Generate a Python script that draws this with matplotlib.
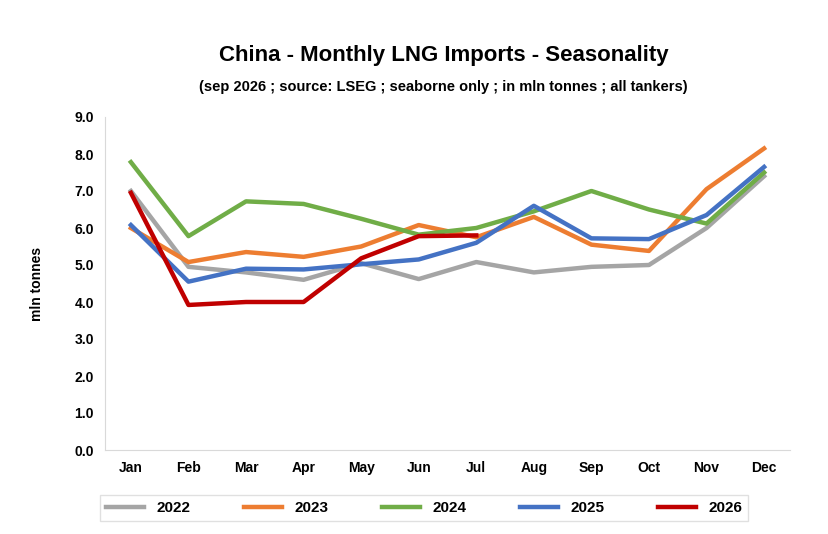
import matplotlib.pyplot as plt

months = ['Jan', 'Feb', 'Mar', 'Apr', 'May', 'Jun', 'Jul', 'Aug', 'Sep', 'Oct', 'Nov', 'Dec']
y2022 = [7.0, 4.95, 4.8, 4.6, 5.05, 4.62, 5.08, 4.8, 4.95, 5.0, 6.0, 7.4]
y2023 = [6.0, 5.08, 5.35, 5.22, 5.5, 6.08, 5.75, 6.3, 5.55, 5.38, 7.05, 8.15]
y2024 = [7.78, 5.78, 6.72, 6.65, 6.25, 5.82, 6.0, 6.45, 7.0, 6.5, 6.12, 7.5]
y2025 = [6.08, 4.55, 4.9, 4.88, 5.02, 5.15, 5.6, 6.6, 5.72, 5.7, 6.35, 7.65]
y2026 = [6.95, 3.92, 4.0, 4.0, 5.18, 5.78, 5.8]

series = [('2022', y2022, '#a5a5a5'), ('2023', y2023, '#ed7d31'),
          ('2024', y2024, '#70ad47'), ('2025', y2025, '#4472c4'),
          ('2026', y2026, '#c00000')]

plt.rcParams['font.family'] = ['Liberation Sans', 'DejaVu Sans']

fig = plt.figure(figsize=(8.29, 5.34), dpi=100)
ax = fig.add_axes([105 / 829, 1 - 450 / 534, 685 / 829, 333 / 534])

x = list(range(len(months)))
for name, vals, col in series:
    ax.plot(x[:len(vals)], vals, color=col, linewidth=3.2, label=name)

ax.set_xlim(-0.45, 11.45)
ax.set_ylim(0, 9)
ax.set_yticks([i for i in range(10)])
ax.set_yticklabels([f'{i:.1f}' for i in range(10)], fontsize=10, fontweight='bold')
ax.set_xticks(x)
ax.set_xticklabels(months, fontsize=10, fontweight='bold')
ax.tick_params(length=0, pad=8)
for s in ['top', 'right']:
    ax.spines[s].set_visible(False)
for s in ['left', 'bottom']:
    ax.spines[s].set_color('#d9d9d9')
ax.set_ylabel('mln tonnes', fontsize=10, fontweight='bold', labelpad=22)

fig.text(0.535, 0.885, 'China - Monthly LNG Imports - Seasonality', ha='center',
         fontsize=16, fontweight='bold')
fig.text(0.535, 0.83, '(sep 2026 ; source: LSEG ; seaborne only ; in mln tonnes ; all tankers)',
         ha='center', fontsize=10.5, fontweight='bold')

leg = fig.legend(loc='center', bbox_to_anchor=(424 / 829, 1 - 508 / 534), ncol=5,
                 frameon=True, fancybox=False, edgecolor='#d9d9d9', handlelength=2.5,
                 columnspacing=3.5, prop={'weight': 'bold', 'size': 11})

fig.savefig('out.png', dpi=100)
